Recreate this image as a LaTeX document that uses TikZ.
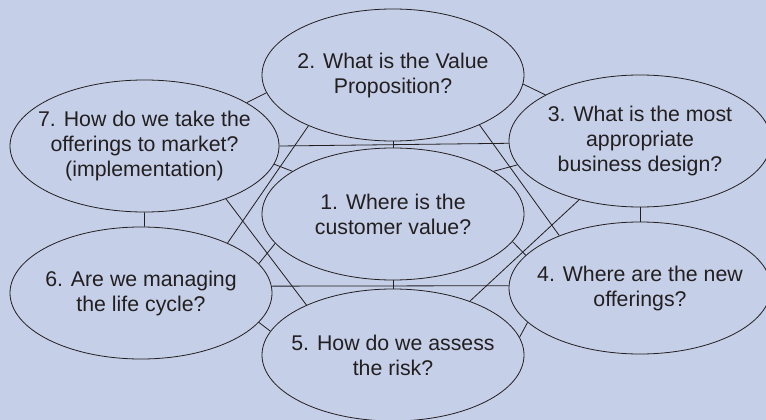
\documentclass[tikz,border=0pt]{standalone}
\usepackage{fontspec}
\setmainfont{Liberation Sans}
\usepackage{tikz}
\usetikzlibrary{shapes.geometric}
\definecolor{panelblue}{RGB}{197,207,232}
\definecolor{inkdark}{RGB}{35,31,32}

\begin{document}
\begin{tikzpicture}[
    x=1pt, y=-1pt,
    every node/.style={font=\fontsize{21.3}{25}\selectfont, align=center, text=inkdark},
    bubble/.style={ellipse, draw=inkdark, fill=panelblue, line width=0.8pt, minimum width=262pt, minimum height=132pt, inner sep=-15pt},
    link/.style={draw=inkdark, line width=0.8pt}
]
    \fill[panelblue] (0,0) rectangle (766,420);
    \clip (0,0) rectangle (766,420);
    \useasboundingbox (0,0) rectangle (766,420);

    \node[bubble] (n1) at (393,214) {1. Where is the\\customer value?};
    \node[bubble] (n2) at (393,75) {2. What is the Value\\Proposition?};
    \node[bubble] (n3) at (640,141) {3. What is the most\\appropriate\\business design?};
    \node[bubble] (n4) at (640,288) {4. Where are the new\\offerings?};
    \node[bubble] (n5) at (393,355) {5. How do we assess\\the risk?};
    \node[bubble] (n6) at (141,293) {6. Are we managing\\the life cycle?};
    \node[bubble, minimum width=269pt] (n7) at (144.5,146) {7. How do we take the\\offerings to market?\\(implementation)};

    % outer ring
    \draw[link] (n2.-4.4) -- (n3.154.9);
    \draw[link] (n3.south) -- (n4.north);
    \draw[link] (n5.8.7) -- (n4.197.6);
    \draw[link] (n6.-14.3) -- (n5.169.3);
    \draw[link] (n7.south) -- (n6.87);
    \draw[link] (n7.23) -- (n2.188);
    % spokes to the centre
    \draw[link] (n2.south) -- (n1.north);
    \draw[link] (n1.23.5) -- (n3.191.7);
    \draw[link] (n1.-13.6) -- (n4.164);
    \draw[link] (n1.south) -- (n5.north);
    \draw[link] (n6.14.3) -- (n1.194.7);
    \draw[link] (n7.-8) -- (n1.157.7);
    % long cross links
    \draw[link] (n7.0.4) -- (n3.181.8);
    \draw[link] (n3.224.5) -- (n5.35.2);
    \draw[link] (n7.-33) -- (n5.150.5);
    \draw[link] (n2.211.5) -- (n6.30);
    \draw[link] (n2.-30.5) -- (n4.147.5);
    \draw[link] (n6.3.1) -- (n4.179.1);
\end{tikzpicture}
\end{document}
